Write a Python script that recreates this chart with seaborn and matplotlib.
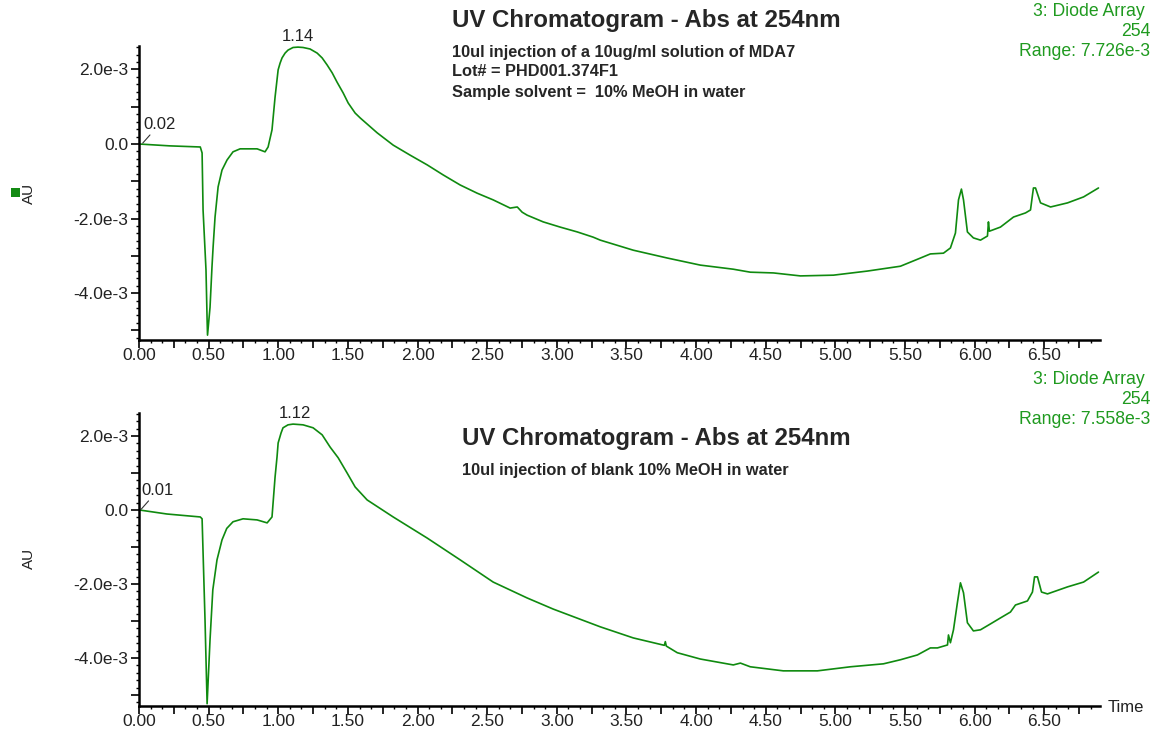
import matplotlib
matplotlib.use("Agg")
import matplotlib.pyplot as plt
from matplotlib.patches import Rectangle
from matplotlib.ticker import MultipleLocator, FuncFormatter
import numpy as np
import pandas as pd
import seaborn as sns

# retention time (min) and absorbance (1e-3 AU)
sample_time = [0.00, 0.22, 0.44, 0.453, 0.460, 0.481, 0.489, 0.492, 0.510, 0.524, 0.532, 0.546,
               0.568, 0.596, 0.632, 0.675, 0.726, 0.848, 0.905, 0.927, 0.955, 0.977, 0.999,
               1.013, 1.027, 1.049, 1.070, 1.106, 1.142, 1.178, 1.228, 1.279, 1.315, 1.351,
               1.387, 1.422, 1.466, 1.502, 1.552, 1.588, 1.710, 1.825, 1.947, 2.069, 2.184,
               2.306, 2.428, 2.543, 2.665, 2.716, 2.751, 2.787, 2.902, 3.024, 3.147, 3.261,
               3.312, 3.549, 3.793, 4.030, 4.267, 4.389, 4.555, 4.749, 4.986, 5.230, 5.467,
               5.611, 5.682, 5.776, 5.826, 5.862, 5.884, 5.905, 5.920, 5.948, 5.991, 6.042,
               6.078, 6.092, 6.099, 6.106, 6.185, 6.279, 6.365, 6.401, 6.422, 6.437, 6.473,
               6.545, 6.667, 6.782, 6.889]
sample_abs = [0.00, -0.05, -0.08, -0.24, -1.77, -3.38, -4.72, -5.13, -4.38, -3.30, -2.77, -1.96,
              -1.15, -0.70, -0.43, -0.21, -0.13, -0.13, -0.21, -0.08, 0.38, 1.26, 1.99,
              2.17, 2.31, 2.44, 2.52, 2.59, 2.60, 2.59, 2.55, 2.44, 2.31, 2.12,
              1.91, 1.66, 1.37, 1.10, 0.83, 0.70, 0.30, -0.03, -0.30, -0.56, -0.83,
              -1.10, -1.32, -1.50, -1.72, -1.69, -1.83, -1.91, -2.09, -2.23, -2.36, -2.50,
              -2.58, -2.85, -3.06, -3.25, -3.36, -3.44, -3.46, -3.54, -3.52, -3.41, -3.28,
              -3.06, -2.95, -2.93, -2.79, -2.39, -1.50, -1.21, -1.50, -2.36, -2.52, -2.58,
              -2.50, -2.47, -2.09, -2.34, -2.23, -1.96, -1.85, -1.77, -1.18, -1.18, -1.58,
              -1.69, -1.58, -1.42, -1.18]

blank_time = [0.00, 0.20, 0.44, 0.453, 0.474, 0.489, 0.51, 0.53, 0.56, 0.596, 0.63, 0.675,
              0.747, 0.848, 0.920, 0.955, 0.977, 0.991, 0.999, 1.020, 1.034, 1.070, 1.106,
              1.178, 1.250, 1.315, 1.372, 1.430, 1.494, 1.552, 1.638, 1.825, 2.069, 2.306,
              2.543, 2.787, 2.974, 3.312, 3.549, 3.772, 3.779, 3.786, 3.865, 4.030, 4.267,
              4.318, 4.389, 4.626, 4.871, 5.108, 5.345, 5.467, 5.589, 5.682, 5.733, 5.805,
              5.812, 5.826, 5.848, 5.876, 5.898, 5.920, 5.948, 5.991, 6.042, 6.114, 6.185,
              6.257, 6.293, 6.379, 6.415, 6.430, 6.451, 6.480, 6.523, 6.667, 6.782, 6.889]
blank_abs = [0.00, -0.11, -0.19, -0.24, -2.97, -5.24, -3.51, -2.16, -1.35, -0.81, -0.50, -0.32,
             -0.24, -0.27, -0.35, -0.19, 0.89, 1.43, 1.81, 2.08, 2.22, 2.30, 2.32,
             2.30, 2.22, 2.03, 1.70, 1.41, 1.00, 0.62, 0.27, -0.19, -0.76, -1.35,
             -1.95, -2.38, -2.68, -3.16, -3.46, -3.66, -3.56, -3.68, -3.86, -4.03, -4.19,
             -4.14, -4.24, -4.35, -4.35, -4.24, -4.16, -4.05, -3.92, -3.73, -3.73, -3.65,
             -3.38, -3.59, -3.24, -2.51, -1.97, -2.24, -3.05, -3.27, -3.24, -3.08, -2.92,
             -2.76, -2.57, -2.46, -2.22, -1.81, -1.81, -2.22, -2.27, -2.08, -1.95, -1.68]

sample_peaks = [0.02, 1.14]
blank_peaks = [0.01, 1.12]

title = "UV Chromatogram - Abs at 254nm"
sample_notes = ["10ul injection of a 10ug/ml solution of MDA7",
                "Lot# = PHD001.374F1",
                "Sample solvent =  10% MeOH in water"]
blank_notes = ["10ul injection of blank 10% MeOH in water"]
sample_range = "7.726e-3"
blank_range = "7.558e-3"

sns.set_theme(style="white")
plt.rcParams["font.family"] = ["Liberation Sans", "DejaVu Sans"]

GREEN = "#0f8a0f"
TEXT_GREEN = "#1f9a1f"
W, H = 1155, 738

fig = plt.figure(figsize=(W / 100, H / 100), dpi=100)
ax_top = fig.add_axes([139 / W, 1 - 340 / H, (1100 - 139) / W, (340 - 46) / H])
ax_bot = fig.add_axes([139 / W, 1 - 706 / H, (1100 - 139) / W, (706 - 413) / H])


def y_fmt(v, pos):
    k = int(round(v))
    if k % 2:
        return ""
    if k == 0:
        return "0.0"
    return f"{k:.1f}e-3"


def x_fmt(v, pos):
    q = int(round(v * 4))
    return "" if q % 2 else f"{v:.2f}"


def draw_trace(ax, t, a, peaks, ylim):
    df = pd.DataFrame({"time": t, "abs": a})
    sns.lineplot(data=df, x="time", y="abs", ax=ax, color=GREEN, lw=1.2, estimator=None, sort=False)
    ax.set_xlim(0, 6.9)
    ax.set_ylim(*ylim)
    ax.set_xlabel("")
    ax.set_ylabel("")
    for s in ["top", "right"]:
        ax.spines[s].set_visible(False)
    for s in ["left", "bottom"]:
        ax.spines[s].set_color("black")
        ax.spines[s].set_linewidth(1.8)
    ax.xaxis.set_major_locator(MultipleLocator(0.25))
    ax.xaxis.set_minor_locator(MultipleLocator(0.5 / 6))
    ax.xaxis.set_major_formatter(FuncFormatter(x_fmt))
    ax.yaxis.set_major_locator(MultipleLocator(1.0))
    ax.yaxis.set_minor_locator(MultipleLocator(0.2))
    ax.yaxis.set_major_formatter(FuncFormatter(y_fmt))
    ax.tick_params(which="major", direction="out", length=5.5, width=1.2, color="black",
                   labelsize=12.5, labelcolor="#222222", bottom=True, left=True)
    ax.tick_params(axis="x", which="major", pad=0.5)
    ax.tick_params(axis="y", which="major", pad=2)
    ax.tick_params(which="minor", direction="out", length=2.5, width=1.0, color="black",
                   bottom=True, left=True)
    # first label has a leader line, the main peak a plain label on top
    t0 = peaks[0]
    ax.annotate(f"{t0:.2f}", xy=(t0, np.interp(t0, t, a)), xytext=(1, 9),
                textcoords="offset points", ha="left", va="bottom", fontsize=12,
                color="#222222", annotation_clip=False,
                arrowprops=dict(arrowstyle="-", color="#333333", lw=0.8,
                                relpos=(0.3, 0.0), shrinkA=0, shrinkB=1))
    t1 = peaks[1]
    ax.annotate(f"{t1:.2f}", xy=(t1, np.interp(t1, t, a)), xytext=(0, 2),
                textcoords="offset points", ha="center", va="bottom", fontsize=12,
                color="#222222", annotation_clip=False)


draw_trace(ax_top, sample_time, sample_abs, sample_peaks, (-5.26, 2.63))
draw_trace(ax_bot, blank_time, blank_abs, blank_peaks, (-5.30, 2.62))

# titles and notes
fig.text(452 / W, 1 - 21 / H, title, fontsize=17.3, fontweight="bold", ha="left", va="center")
for i, line in enumerate(sample_notes):
    fig.text(452 / W, 1 - (52 + 20 * i) / H, line, fontsize=11.75, fontweight="bold",
             ha="left", va="center")
fig.text(462 / W, 1 - 438 / H, title, fontsize=17.3, fontweight="bold", ha="left", va="center")
for i, line in enumerate(blank_notes):
    fig.text(462 / W, 1 - (471 + 20 * i) / H, line, fontsize=11.75, fontweight="bold",
             ha="left", va="center")

# detector info, top right of each trace
for y0, rng in [(12, sample_range), (380, blank_range)]:
    for i, line in enumerate(["3: Diode Array", "254", f"Range: {rng}"]):
        fig.text((1145 if i == 0 else 1150) / W, 1 - (y0 + 20 * i) / H, line, fontsize=12.7,
                 color=TEXT_GREEN, ha="right", va="center")

# axis labels
fig.text(29 / W, 1 - 193 / H, "AU", fontsize=11, rotation=90, ha="center", va="center", color="#222222")
fig.text(29 / W, 1 - 558 / H, "AU", fontsize=11, rotation=90, ha="center", va="center", color="#222222")
fig.patches.append(Rectangle((11 / W, 1 - 197 / H), 9 / W, 9 / H, transform=fig.transFigure,
                             facecolor="#138a13", edgecolor="none"))
fig.text(1108 / W, 1 - 707 / H, "Time", fontsize=12, ha="left", va="center", color="#222222")

fig.savefig("out.png", dpi=100, facecolor="white")
